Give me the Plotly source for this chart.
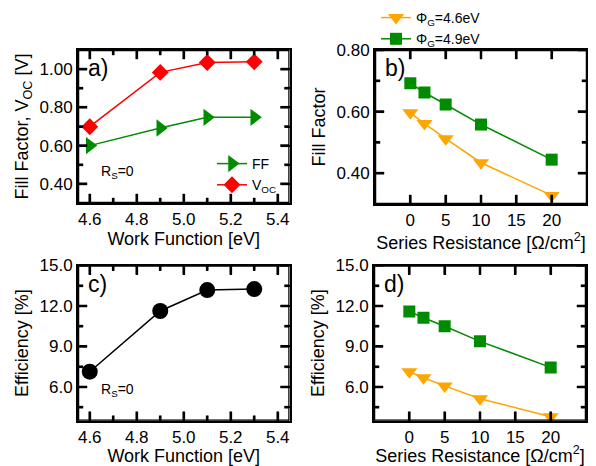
import plotly.graph_objects as go

# ---- data ----
work_function = [4.6, 4.9, 5.1, 5.3]
ff_wf = [0.60, 0.692, 0.748, 0.748]
voc_wf = [0.699, 0.983, 1.035, 1.038]
eff_wf = [7.13, 11.63, 13.18, 13.25]

rs = [0, 2, 5, 10, 20]
ff_46 = [0.596, 0.561, 0.512, 0.434, 0.328]
ff_49 = [0.692, 0.662, 0.623, 0.558, 0.444]
eff_46 = [7.13, 6.68, 6.08, 5.13, 3.8]
eff_49 = [11.6, 11.13, 10.5, 9.38, 7.45]

wf_ticks = [4.6, 4.8, 5.0, 5.2, 5.4]
wf_ticklabels = ["4.6", "4.8", "5.0", "5.2", "5.4"]
wf_minor = [4.7, 4.9, 5.1, 5.3]
rs_ticks = [0, 5, 10, 15, 20]
rs_ticklabels = ["0", "5", "10", "15", "20"]
voc_ticks = [0.4, 0.6, 0.8, 1.0]
voc_ticklabels = ["0.40", "0.60", "0.80", "1.00"]
voc_minor = [0.5, 0.7, 0.9]
ff_ticks = [0.4, 0.6, 0.8]
ff_ticklabels = ["0.40", "0.60", "0.80"]
ff_minor = [0.5, 0.7]
eff_ticks = [6, 9, 12, 15]
eff_ticklabels = ["6.0", "9.0", "12.0", "15.0"]
eff_minor = [4.5, 7.5, 10.5, 13.5]

wf_range = [4.55, 5.45]
rs_range = [-5, 25]
voc_range = [0.3, 1.1]
ff_range = [0.3, 0.8]
eff_range = [3.5, 15]

GREEN = "#008c00"
RED = "#ff0000"
ORANGE = "#ffa500"
BLACK = "#000000"
FONT = "Liberation Sans, Arial, Helvetica, sans-serif"
TICK_SIZE = 17
TITLE_SIZE = 18

# page body has an 8px default margin: figure is drawn at (8, 8)
OFF = 8
W, H = 596 - OFF, 466 - OFF
def dx(a, b):
    return [(a - OFF) / W, (b - OFF) / W]
def dy(top, bottom):
    return [1 - (bottom - OFF) / H, 1 - (top - OFF) / H]
def px(a):
    return (a - OFF) / W
def py(b):
    return 1 - (b - OFF) / H

dom = {
    "x": dx(78, 289.5), "y": dy(50, 203),
    "x2": dx(375, 587), "y2": dy(50, 204),
    "x3": dx(78, 289.5), "y3": dy(265.5, 420.7),
    "x4": dx(374, 586), "y4": dy(265.5, 420.7),
}

fig = go.Figure()

fig.add_trace(go.Scatter(x=work_function, y=ff_wf, mode="lines+markers", name="FF",
                         line=dict(color=GREEN, width=1.5),
                         marker=dict(symbol="triangle-right", size=15, color=GREEN),
                         xaxis="x", yaxis="y", legend="legend"))
fig.add_trace(go.Scatter(x=work_function, y=voc_wf, mode="lines+markers", name="V<sub>OC</sub>",
                         line=dict(color=RED, width=1.5),
                         marker=dict(symbol="diamond", size=13, color=RED),
                         xaxis="x", yaxis="y", legend="legend"))
fig.add_trace(go.Scatter(x=rs, y=ff_46, mode="lines+markers", name="Φ<sub>G</sub>=4.6eV",
                         line=dict(color=ORANGE, width=1.5),
                         marker=dict(symbol="triangle-down", size=14, color=ORANGE),
                         xaxis="x2", yaxis="y2", legend="legend2"))
fig.add_trace(go.Scatter(x=rs, y=ff_49, mode="lines+markers", name="Φ<sub>G</sub>=4.9eV",
                         line=dict(color=GREEN, width=1.5),
                         marker=dict(symbol="square", size=12, color=GREEN),
                         xaxis="x2", yaxis="y2", legend="legend2"))
fig.add_trace(go.Scatter(x=work_function, y=eff_wf, mode="lines+markers", showlegend=False,
                         line=dict(color=BLACK, width=1.5),
                         marker=dict(symbol="circle", size=16, color=BLACK),
                         xaxis="x3", yaxis="y3"))
fig.add_trace(go.Scatter(x=rs, y=eff_46, mode="lines+markers", showlegend=False,
                         line=dict(color=ORANGE, width=1.5),
                         marker=dict(symbol="triangle-down", size=14, color=ORANGE),
                         xaxis="x4", yaxis="y4"))
fig.add_trace(go.Scatter(x=rs, y=eff_49, mode="lines+markers", showlegend=False,
                         line=dict(color=GREEN, width=1.5),
                         marker=dict(symbol="square", size=12, color=GREEN),
                         xaxis="x4", yaxis="y4"))

# frame + inside ticks drawn as thin filled rectangles, built from ranges and tick lists
MAJ, MIN, LW = 9, 5, 2
def add_frame(xa, ya, xr, yr, xmaj, xmin, ymaj, ymin):
    xlen = (dom[xa][1] - dom[xa][0]) * W
    ylen = (dom[ya][1] - dom[ya][0]) * H
    ux = (xr[1] - xr[0]) / xlen
    uy = (yr[1] - yr[0]) / ylen
    hx, hy = LW / 2 * ux, LW / 2 * uy
    rects = [
        (xr[0] - hx, xr[1] + hx, yr[0] - hy, yr[0] + hy),
        (xr[0] - hx, xr[1] + hx, yr[1] - hy, yr[1] + hy),
        (xr[0] - hx, xr[0] + hx, yr[0] - hy, yr[1] + hy),
        (xr[1] - hx, xr[1] + hx, yr[0] - hy, yr[1] + hy),
    ]
    for vals, ln in ((xmaj, MAJ), (xmin, MIN)):
        for v in vals:
            rects.append((v - hx, v + hx, yr[0], yr[0] + ln * uy))
            rects.append((v - hx, v + hx, yr[1] - ln * uy, yr[1]))
    for vals, ln in ((ymaj, MAJ), (ymin, MIN)):
        for v in vals:
            rects.append((xr[0], xr[0] + ln * ux, v - hy, v + hy))
            rects.append((xr[1] - ln * ux, xr[1], v - hy, v + hy))
    xs, ys = [], []
    for (x0, x1, y0, y1) in rects:
        xs += [x0, x1, x1, x0, x0, None]
        ys += [y0, y0, y1, y1, y0, None]
    fig.add_trace(go.Scatter(x=xs, y=ys, mode="lines", fill="toself", fillcolor=BLACK,
                             line=dict(color=BLACK, width=0.5),
                             showlegend=False, hoverinfo="skip", cliponaxis=False,
                             xaxis=xa, yaxis=ya))

add_frame("x", "y", wf_range, voc_range, wf_ticks, wf_minor, voc_ticks, voc_minor)
add_frame("x2", "y2", rs_range, ff_range, rs_ticks, [], ff_ticks, ff_minor)
add_frame("x3", "y3", wf_range, eff_range, wf_ticks, wf_minor, eff_ticks, eff_minor)
add_frame("x4", "y4", rs_range, eff_range, rs_ticks, [], eff_ticks, eff_minor)

def axis(name, rng, tickvals, ticktext, minor_vals, title, anchor, standoff):
    d = dict(domain=dom[name], range=rng, tickvals=tickvals, ticktext=ticktext,
             showline=True, linecolor=BLACK, linewidth=2, mirror="ticks",
             ticks="inside", ticklen=MAJ, tickwidth=2, tickcolor=BLACK,
             showgrid=False, zeroline=False, anchor=anchor, automargin=False,
             tickfont=dict(size=TICK_SIZE, color="black", family=FONT),
             title=dict(text=title, font=dict(size=TITLE_SIZE, color="black", family=FONT),
                        standoff=standoff))
    if minor_vals:
        d["minor"] = dict(ticks="inside", ticklen=MIN, tickwidth=2, tickcolor=BLACK,
                          tickvals=minor_vals, showgrid=False)
    return d

fig.update_layout(
    width=W, height=H, margin=dict(l=0, r=0, t=0, b=0, autoexpand=False),
    paper_bgcolor="white", plot_bgcolor="white",
    font=dict(family=FONT, color="black"),
    xaxis=axis("x", wf_range, wf_ticks, wf_ticklabels, wf_minor, "Work Function [eV]", "y", 3),
    yaxis=axis("y", voc_range, voc_ticks, voc_ticklabels, voc_minor, "Fill Factor, V<sub>OC</sub> [V]", "x", 6),
    xaxis2=axis("x2", rs_range, rs_ticks, rs_ticklabels, None, "Series Resistance [Ω/cm<sup>2</sup>]", "y2", 3),
    yaxis2=axis("y2", ff_range, ff_ticks, ff_ticklabels, ff_minor, "Fill Factor", "x2", 6),
    xaxis3=axis("x3", wf_range, wf_ticks, wf_ticklabels, wf_minor, "Work Function [eV]", "y3", 3),
    yaxis3=axis("y3", eff_range, eff_ticks, eff_ticklabels, eff_minor, "Efficiency [%]", "x3", 6),
    xaxis4=axis("x4", rs_range, rs_ticks, rs_ticklabels, None, "Series Resistance [Ω/cm<sup>2</sup>]", "y4", 3),
    yaxis4=axis("y4", eff_range, eff_ticks, eff_ticklabels, eff_minor, "Efficiency [%]", "x4", 6),
    legend=dict(x=px(212), y=py(148), xanchor="left", yanchor="top",
                bgcolor="rgba(0,0,0,0)", font=dict(size=14, family=FONT, color="black"),
                tracegroupgap=0, itemwidth=30),
    legend2=dict(x=px(376), y=py(2), xanchor="left", yanchor="top",
                 bgcolor="rgba(0,0,0,0)", font=dict(size=14, family=FONT, color="black"),
                 tracegroupgap=0, itemwidth=30),
    showlegend=True,
)

ann_font = dict(size=23, family=FONT, color="black")
for ax, lab in [("x", "a)"), ("x2", "b)"), ("x3", "c)"), ("x4", "d)")]:
    yref = "y" + ax[1:]
    fig.add_annotation(text=lab, xref=ax + " domain", yref=yref + " domain", x=0.04, y=0.98,
                       xanchor="left", yanchor="top", showarrow=False, font=ann_font)
for xref, yref in [("x", "y"), ("x3", "y3")]:
    fig.add_annotation(text="R<sub>S</sub>=0", xref=xref + " domain", yref=yref + " domain",
                       x=0.1, y=0.2, xanchor="left", yanchor="middle", showarrow=False,
                       font=dict(size=14, family=FONT, color="black"))

fig.write_html("out.html")
